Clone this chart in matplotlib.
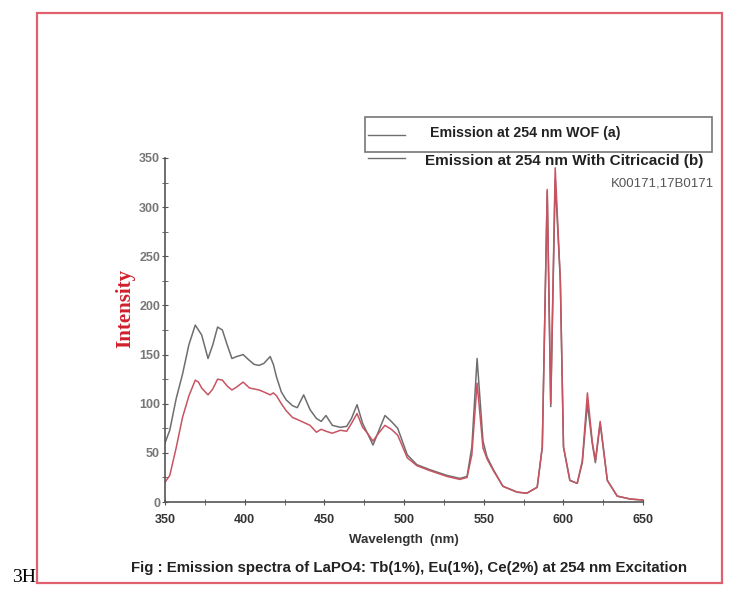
import matplotlib.pyplot as plt
from matplotlib.patches import Rectangle
from matplotlib.lines import Line2D
from matplotlib.ticker import MultipleLocator

# wavelength (nm) and intensities
wavelength = [350, 353, 357, 361, 365, 369, 371, 373, 377, 380, 383, 386, 389, 392,
              395, 399, 403, 406, 409, 412, 416, 418, 420, 423, 426, 430, 433, 437,
              441, 445, 448, 451, 455, 460, 464, 467, 470.5, 474, 477, 480.5, 484,
              488, 492, 496, 502, 508, 516, 527, 535, 539.5, 542.5, 545.8, 549.5,
              552, 556, 562, 571, 577, 583.5, 586.7, 589.8, 592, 594.8, 598, 600,
              604, 608.6, 611.8, 615, 618, 620, 623, 627.5, 633.7, 642, 650]
wof_a = [60, 73, 105, 130, 160, 180, 175, 170, 146, 160, 178, 175, 160, 146,
         148, 150, 144, 140, 139, 141, 148, 140, 127, 112, 104, 98, 96, 109,
         94, 85, 82, 88, 78, 76, 77, 85, 99, 80, 70, 58, 72,
         88, 82, 75, 48, 38, 33, 27, 24, 26, 56, 146, 62,
         46, 33, 16, 10, 9, 15, 56, 316, 97, 328, 226, 56,
         22, 19, 40, 100, 60, 40, 80, 22, 6, 3, 2]
citric_b = [20, 27, 55, 86, 108, 124, 122, 116, 109, 115, 125, 124, 118, 114,
            117, 122, 116, 115, 114, 112, 109, 111, 108, 100, 93, 86, 84, 81,
            78, 71, 74, 72, 70, 73, 72, 80, 90, 76, 70, 62, 70,
            78, 74, 68, 45, 37, 32, 26, 23, 25, 48, 121, 55,
            44, 32, 16, 10, 9, 15, 56, 318, 100, 340, 226, 56,
            22, 19, 42, 111, 62, 42, 82, 22, 6, 3, 2]

label_a = "Emission at 254 nm WOF (a)"
label_b = "Emission at 254 nm With Citricacid (b)"
caption = "Fig : Emission spectra of LaPO4: Tb(1%), Eu(1%), Ce(2%) at 254 nm Excitation"

gray = "#6e6e6e"
red = "#c85462"
sans = ["Liberation Sans", "DejaVu Sans"]

fig = plt.figure(figsize=(7.29, 5.98), dpi=100)
ax = fig.add_axes([0.2263, 0.1605, 0.656, 0.5753])

ax.plot(wavelength, wof_a, color=gray, lw=1.1)
ax.plot(wavelength, citric_b, color=red, lw=1.1)

ax.set_xlim(350, 650)
ax.set_ylim(0, 350)
ax.xaxis.set_major_locator(MultipleLocator(50))
ax.xaxis.set_minor_locator(MultipleLocator(25))
ax.yaxis.set_major_locator(MultipleLocator(50))
ax.yaxis.set_minor_locator(MultipleLocator(25))
for s in ["top", "right"]:
    ax.spines[s].set_visible(False)
for s in ["left", "bottom"]:
    ax.spines[s].set_color("#555555")
    ax.spines[s].set_linewidth(1.2)
ax.tick_params(which="both", direction="inout", color="#555555")
ax.tick_params(which="major", length=5)
ax.tick_params(which="minor", length=4)
ax.tick_params(axis="x", labelsize=9, labelcolor="#333333", pad=6)
ax.tick_params(axis="y", labelsize=9, labelcolor="#777777", pad=1)
for t in ax.get_xticklabels() + ax.get_yticklabels():
    t.set_family(sans)
    t.set_fontweight("bold")

ax.set_xlabel("Wavelength  (nm)", fontsize=9.5, fontweight="bold", color="#333333",
              family=sans, labelpad=6)
fig.text(0.172, 0.485, "Intensity", rotation=90, color="#d0202c", fontsize=15,
         fontweight="bold", family=["Liberation Serif", "DejaVu Serif"],
         ha="center", va="center")

# legend drawn by hand to keep the odd box of the original
fig.patches.append(Rectangle((365 / 729, 1 - 152 / 598), 347 / 729, 35 / 598,
                             transform=fig.transFigure, fill=False,
                             ec="#777777", lw=1.2))
fig.lines.append(Line2D([368 / 729, 405 / 729], [1 - 135 / 598] * 2,
                        transform=fig.transFigure, color=gray, lw=1.0))
fig.lines.append(Line2D([368 / 729, 405 / 729], [1 - 158 / 598] * 2,
                        transform=fig.transFigure, color=gray, lw=1.0))
fig.text(430 / 729, 1 - 133 / 598, label_a, fontsize=10.2, fontweight="bold",
         color="#222222", family=sans, va="center")
fig.text(425 / 729, 1 - 161 / 598, label_b, fontsize=11, fontweight="bold",
         color="#222222", family=sans, va="center")
fig.text(714 / 729, 1 - 183 / 598, "K00171,17B0171", fontsize=9.5, color="#555555",
         family=sans, ha="right", va="center")

fig.text(409 / 729, 1 - 568 / 598, caption, fontsize=10.8, fontweight="bold",
         color="#222222", family=sans, ha="center", va="center")
fig.text(24 / 729, 1 - 577 / 598, "3H", fontsize=14,
         family=["Liberation Serif", "DejaVu Serif"], ha="center", va="center")

fig.patches.append(Rectangle((37 / 729, 1 - 583 / 598), 685 / 729, 570 / 598,
                             transform=fig.transFigure, fill=False,
                             ec="#e0606e", lw=1.6))

fig.savefig("out.png", dpi=100)
